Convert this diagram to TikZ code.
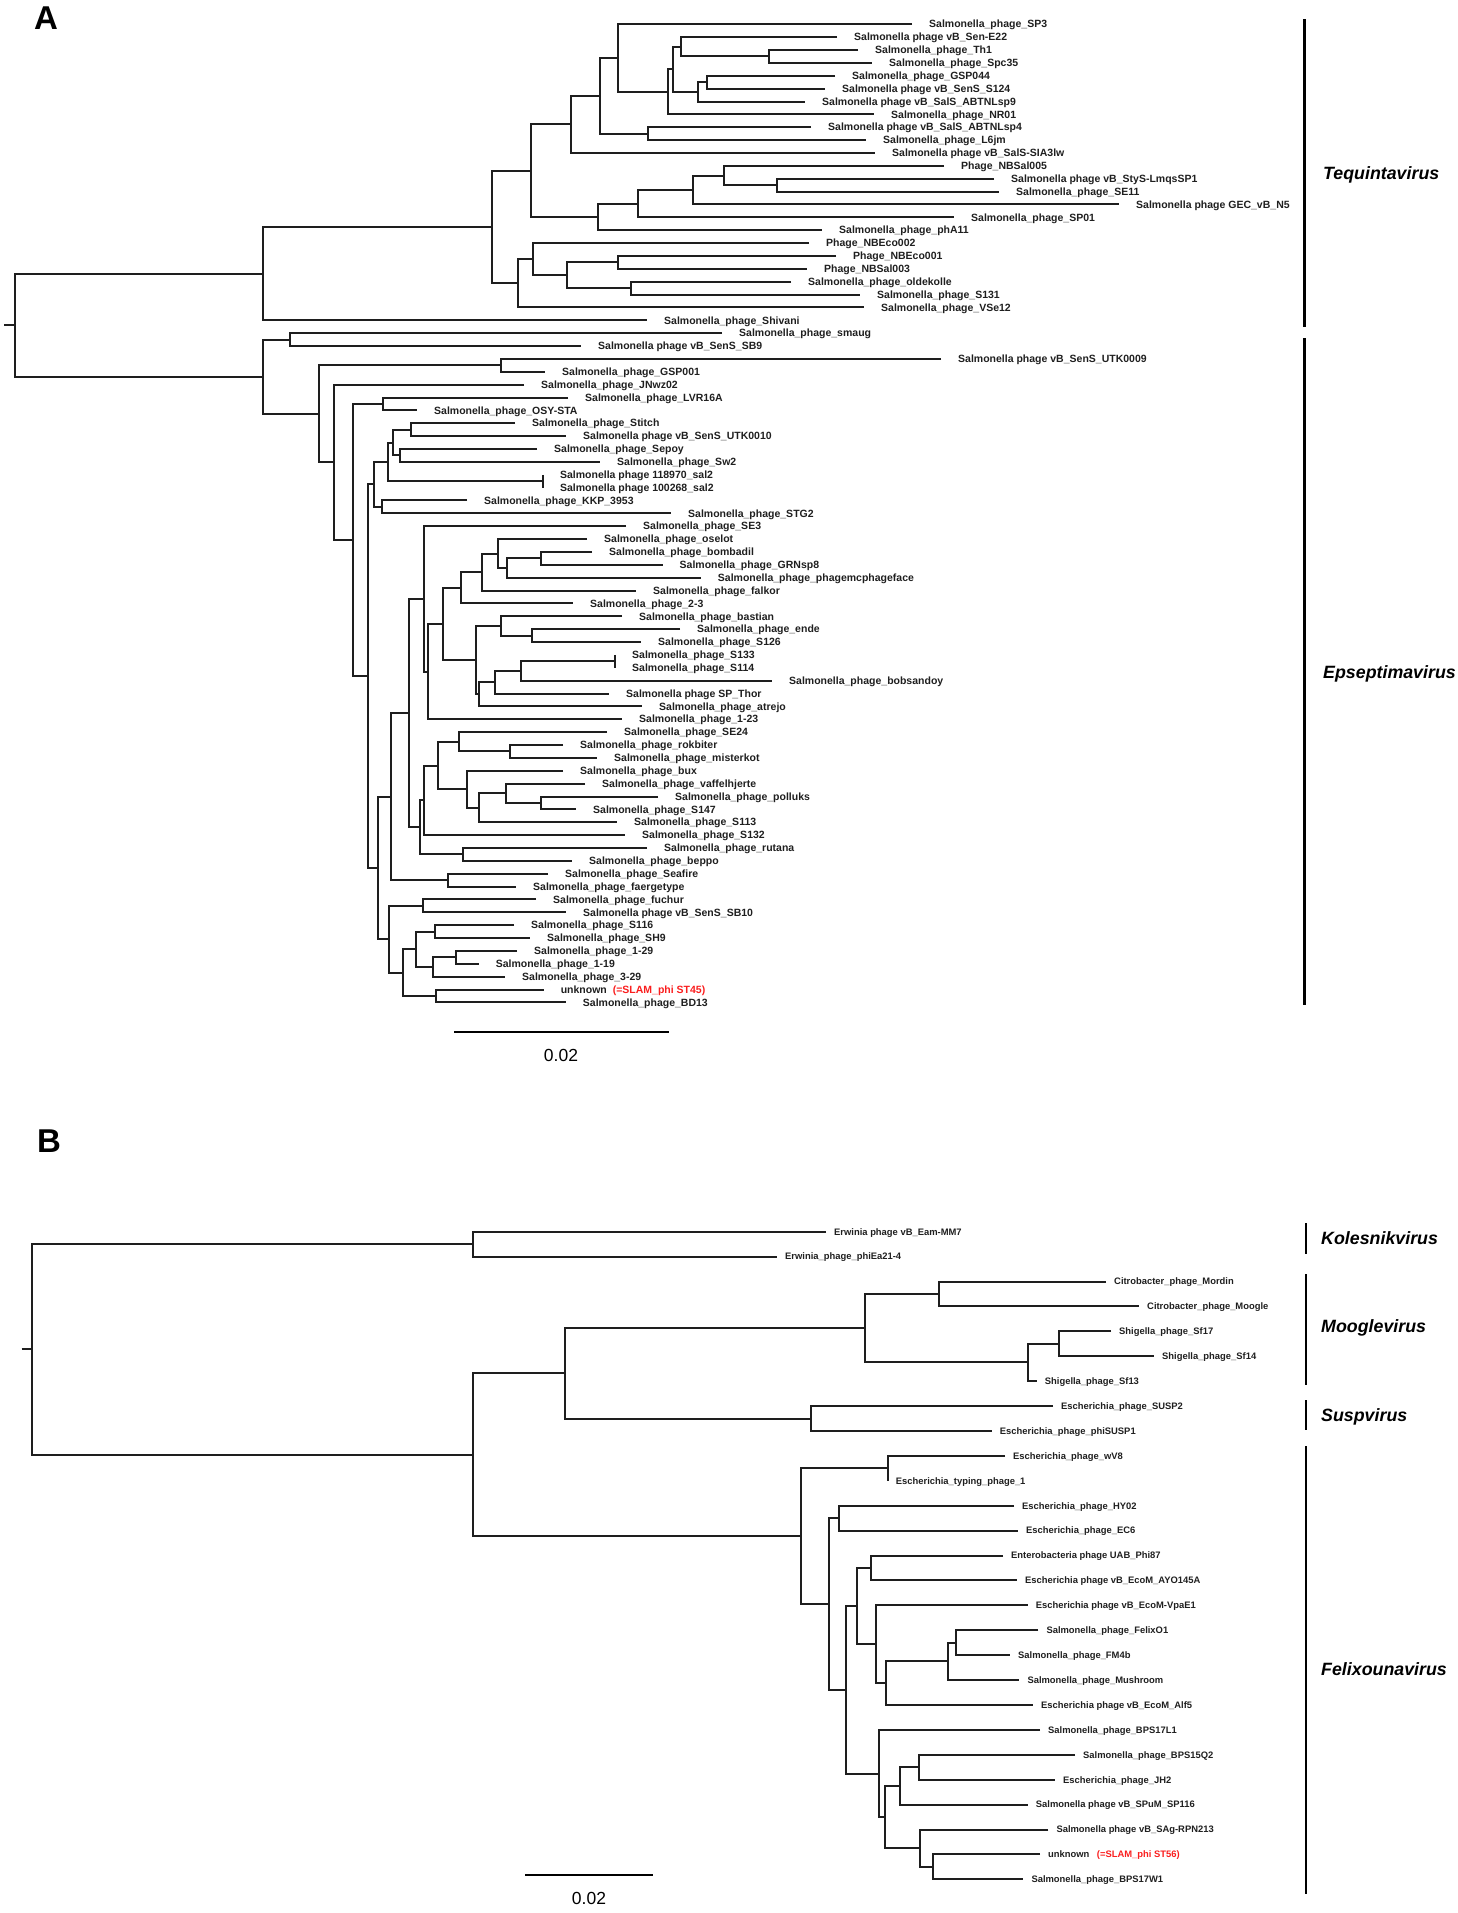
\documentclass[tikz,border=0pt]{standalone}
\usepackage{fontspec}
\setmainfont{Liberation Sans}
\usetikzlibrary{calc}
\definecolor{slamred}{RGB}{250,30,30}
\definecolor{treeline}{RGB}{30,30,30}
\tikzset{
 br/.style={draw=treeline, line width=2pt, line join=miter},
 labA/.style={anchor=base west, inner sep=0pt, xshift=17pt, yshift=-3.7pt, font=\bfseries\fontsize{10.5}{12}\selectfont, text=black!88},
 labB/.style={anchor=base west, inner sep=0pt, xshift=8pt, yshift=-3.3pt, font=\bfseries\fontsize{9.4}{11}\selectfont, text=black!88},
 clade/.style={anchor=base west, inner sep=0pt, font=\bfseries\itshape\fontsize{17.8}{20}\selectfont},
 cladebar/.style={draw=black, line width=2.8pt},
 panel/.style={anchor=base west, inner sep=0pt, font=\bfseries\fontsize{33}{36}\selectfont},
 scalebar/.style={draw=black, line width=1.8pt},
 scaletext/.style={inner sep=0pt, font=\fontsize{17.5}{20}\selectfont},
}
\newcommand\salph{Salmonella\_phage\_}
\newcommand\leafA[4]{\coordinate (#1) at (#2,{24.3+(#3-1)*12.87}); \node[labA] (#1l) at (#1) {#4};}
\newcommand\leafB[4]{\coordinate (#1) at (#2,{1231.7+(#3-1)*24.91}); \node[labB] (#1l) at (#1) {#4};}
\newcommand\treenode[4]{\path let \p1=(#3), \p2=(#4) in coordinate (#1) at ({#2pt},{0.5*\y1+0.5*\y2}); \draw[br] (#3) -| (#1) |- (#4);}
\begin{document}
\begin{tikzpicture}[x=1pt,y=-1pt]
\useasboundingbox (0,0) rectangle (1458,1913);
% ---------------- Panel A ----------------
\node[panel] (pA) at (34,30) {A};
\leafA{a1}{912}{1}{\salph SP3}
\leafA{a2}{837}{2}{Salmonella phage vB\_Sen-E22}
\leafA{a3}{858}{3}{\salph Th1}
\leafA{a4}{872}{4}{\salph Spc35}
\leafA{a5}{835}{5}{\salph GSP044}
\leafA{a6}{825}{6}{Salmonella phage vB\_SenS\_S124}
\leafA{a7}{805}{7}{Salmonella phage vB\_SalS\_ABTNLsp9}
\leafA{a8}{874}{8}{\salph NR01}
\leafA{a9}{811}{9}{Salmonella phage vB\_SalS\_ABTNLsp4}
\leafA{a10}{866}{10}{\salph L6jm}
\leafA{a11}{875}{11}{Salmonella phage vB\_SalS-SIA3lw}
\leafA{a12}{944}{12}{Phage\_NBSal005}
\leafA{a13}{994}{13}{Salmonella phage vB\_StyS-LmqsSP1}
\leafA{a14}{999}{14}{\salph SE11}
\leafA{a15}{1119}{15}{Salmonella phage GEC\_vB\_N5}
\leafA{a16}{954}{16}{\salph SP01}
\leafA{a17}{822}{17}{\salph phA11}
\leafA{a18}{809}{18}{Phage\_NBEco002}
\leafA{a19}{836}{19}{Phage\_NBEco001}
\leafA{a20}{807}{20}{Phage\_NBSal003}
\leafA{a21}{791}{21}{\salph oldekolle}
\leafA{a22}{860}{22}{\salph S131}
\leafA{a23}{864}{23}{\salph VSe12}
\leafA{a24}{647}{24}{\salph Shivani}
\leafA{a25}{722}{25}{\salph smaug}
\leafA{a26}{581}{26}{Salmonella phage vB\_SenS\_SB9}
\leafA{a27}{941}{27}{Salmonella phage vB\_SenS\_UTK0009}
\leafA{a28}{545}{28}{\salph GSP001}
\leafA{a29}{524}{29}{\salph JNwz02}
\leafA{a30}{568}{30}{\salph LVR16A}
\leafA{a31}{417}{31}{\salph OSY-STA}
\leafA{a32}{515}{32}{\salph Stitch}
\leafA{a33}{566}{33}{Salmonella phage vB\_SenS\_UTK0010}
\leafA{a34}{537}{34}{\salph Sepoy}
\leafA{a35}{600}{35}{\salph Sw2}
\leafA{a36}{542.9}{36}{Salmonella phage 118970\_sal2}
\leafA{a37}{542.9}{37}{Salmonella phage 100268\_sal2}
\leafA{a38}{467}{38}{\salph KKP\_3953}
\leafA{a39}{671}{39}{\salph STG2}
\leafA{a40}{626}{40}{\salph SE3}
\leafA{a41}{587}{41}{\salph oselot}
\leafA{a42}{592}{42}{\salph bombadil}
\leafA{a43}{662.5}{43}{\salph GRNsp8}
\leafA{a44}{700.7}{44}{\salph phagemcphageface}
\leafA{a45}{636}{45}{\salph falkor}
\leafA{a46}{573}{46}{\salph 2-3}
\leafA{a47}{622}{47}{\salph bastian}
\leafA{a48}{680}{48}{\salph ende}
\leafA{a49}{641}{49}{\salph S126}
\leafA{a50}{615}{50}{\salph S133}
\leafA{a51}{615}{51}{\salph S114}
\leafA{a52}{772}{52}{\salph bobsandoy}
\leafA{a53}{609}{53}{Salmonella phage SP\_Thor}
\leafA{a54}{642}{54}{\salph atrejo}
\leafA{a55}{622}{55}{\salph 1-23}
\leafA{a56}{607}{56}{\salph SE24}
\leafA{a57}{563}{57}{\salph rokbiter}
\leafA{a58}{597}{58}{\salph misterkot}
\leafA{a59}{563}{59}{\salph bux}
\leafA{a60}{585}{60}{\salph vaffelhjerte}
\leafA{a61}{658}{61}{\salph polluks}
\leafA{a62}{576}{62}{\salph S147}
\leafA{a63}{617}{63}{\salph S113}
\leafA{a64}{625}{64}{\salph S132}
\leafA{a65}{647}{65}{\salph rutana}
\leafA{a66}{572}{66}{\salph beppo}
\leafA{a67}{548}{67}{\salph Seafire}
\leafA{a68}{516}{68}{\salph faergetype}
\leafA{a69}{536}{69}{\salph fuchur}
\leafA{a70}{566}{70}{Salmonella phage vB\_SenS\_SB10}
\leafA{a71}{514}{71}{\salph S116}
\leafA{a72}{530}{72}{\salph SH9}
\leafA{a73}{517}{73}{\salph 1-29}
\leafA{a74}{478.6}{74}{\salph 1-19}
\leafA{a75}{505}{75}{\salph 3-29}
\leafA{a76}{543.6}{76}{unknown}
\node[labA, text=slamred, xshift=52pt] (a76r) at (a76) {(=SLAM\_phi ST45)};
\leafA{a77}{565.7}{77}{\salph BD13}
% Tequintavirus subtree
\treenode{T17}{768.6}{a3}{a4}
\treenode{T15}{681.1}{a2}{T17}
\treenode{T18}{707.1}{a5}{a6}
\treenode{T16}{698.2}{T18}{a7}
\treenode{T14}{673.2}{T15}{T16}
\treenode{T13}{667.9}{T14}{a8}
\treenode{T11}{617.5}{a1}{T13}
\treenode{T12}{648.2}{a9}{a10}
\treenode{T10}{599.6}{T11}{T12}
\treenode{T8}{571.4}{T10}{a11}
\treenode{T22}{776.8}{a13}{a14}
\treenode{T21}{723.9}{a12}{T22}
\treenode{T20}{692.5}{T21}{a15}
\treenode{T19}{637.5}{T20}{a16}
\treenode{T9}{598.2}{T19}{a17}
\treenode{T2}{531.1}{T8}{T9}
\treenode{T6}{617.5}{a19}{a20}
\treenode{T7}{631}{a21}{a22}
\treenode{T5}{566.8}{T6}{T7}
\treenode{T4}{532.9}{a18}{T5}
\treenode{T3}{518.2}{T4}{a23}
\treenode{T1}{491.8}{T2}{T3}
\treenode{T0}{263.2}{T1}{a24}
% Epseptimavirus subtree
\treenode{E1}{290}{a25}{a26}
\treenode{E3}{500.7}{a27}{a28}
\treenode{Ea}{382.9}{a30}{a31}
\treenode{Eb}{410.7}{a32}{a33}
\treenode{Ec}{399.6}{a34}{a35}
\treenode{Ed}{392.9}{Eb}{Ec}
\treenode{Ee}{542.9}{a36}{a37}
\treenode{Ef}{388.2}{Ed}{Ee}
\treenode{Eg}{382.1}{a38}{a39}
\treenode{Eh}{373.9}{Ef}{Eg}
\treenode{Ei}{541}{a42}{a43}
\treenode{Ej}{506.8}{Ei}{a44}
\treenode{Ek}{497.9}{a41}{Ej}
\treenode{El}{481.8}{Ek}{a45}
\treenode{Em}{460.7}{El}{a46}
\treenode{En}{532}{a48}{a49}
\treenode{Eo}{500.7}{a47}{En}
\treenode{Ep}{615}{a50}{a51}
\treenode{Eq}{521.4}{Ep}{a52}
\treenode{Er}{495.4}{Eq}{a53}
\treenode{Es}{479.3}{Er}{a54}
\treenode{Et}{476.4}{Eo}{Es}
\treenode{Eu}{442.9}{Em}{Et}
\treenode{Ev}{428.2}{Eu}{a55}
\treenode{Ew}{423.9}{a40}{Ev}
\treenode{Ex}{510.4}{a57}{a58}
\treenode{Ey}{458.6}{a56}{Ex}
\treenode{Ez}{541}{a61}{a62}
\treenode{Fa}{506}{a60}{Ez}
\treenode{Fb}{479}{Fa}{a63}
\treenode{Fc}{467}{a59}{Fb}
\treenode{Fd}{437.5}{Ey}{Fc}
\treenode{Fe}{424}{Fd}{a64}
\treenode{Ff}{462.5}{a65}{a66}
\treenode{Fg}{420.4}{Fe}{Ff}
\treenode{Fh}{408.6}{Ew}{Fg}
\treenode{Fi}{448}{a67}{a68}
\treenode{Fj}{391}{Fh}{Fi}
\treenode{Fk}{422.9}{a69}{a70}
\treenode{Fl}{434.6}{a71}{a72}
\treenode{Fm}{456}{a73}{a74}
\treenode{Fn}{432.9}{Fm}{a75}
\treenode{Fo}{415.7}{Fl}{Fn}
\treenode{Fp}{436.4}{a76}{a77}
\treenode{Fq}{402.9}{Fo}{Fp}
\treenode{Fr}{389.3}{Fk}{Fq}
\treenode{Fs}{378.2}{Fj}{Fr}
\treenode{Ft}{367.9}{Eh}{Fs}
\treenode{Fv}{352.9}{Ea}{Ft}
\treenode{Fw}{333.6}{a29}{Fv}
\treenode{Fx}{318.6}{E3}{Fw}
\treenode{Fy}{263.2}{E1}{Fx}
\treenode{RA}{15}{T0}{Fy}
\path (RA) ++(-11,0) coordinate (RAtick);
\draw[br] (RAtick) -- (RA);
% clade bars A
\coordinate (teqT) at (1304.3,19.3);
\coordinate (teqB) at (1304.3,327.3);
\coordinate (epsT) at (1304.3,338.3);
\coordinate (epsB) at (1304.3,1005);
\draw[cladebar] (teqT) -- (teqB);
\draw[cladebar] (epsT) -- (epsB);
\node[clade] (teqL) at (1323,179.5) {Tequintavirus};
\node[clade] (epsL) at (1323,678.5) {Epseptimavirus};
% scale bar A
\coordinate (sbA1) at (454,1032);
\coordinate (sbA2) at (668.6,1032);
\draw[scalebar] (sbA1) -- (sbA2);
\node[scaletext] (sbAt) at (561,1055) {0.02};
% ---------------- Panel B ----------------
\node[panel] (pB) at (37,1152) {B};
\leafB{b1}{826}{1}{Erwinia phage vB\_Eam-MM7}
\leafB{b2}{777}{2}{Erwinia\_phage\_phiEa21-4}
\leafB{b3}{1106}{3}{Citrobacter\_phage\_Mordin}
\leafB{b4}{1139}{4}{Citrobacter\_phage\_Moogle}
\leafB{b5}{1111}{5}{Shigella\_phage\_Sf17}
\leafB{b6}{1154}{6}{Shigella\_phage\_Sf14}
\leafB{b7}{1036.7}{7}{Shigella\_phage\_Sf13}
\leafB{b8}{1053}{8}{Escherichia\_phage\_SUSP2}
\leafB{b9}{991.7}{9}{Escherichia\_phage\_phiSUSP1}
\leafB{b10}{1005}{10}{Escherichia\_phage\_wV8}
\leafB{b11}{887.7}{11}{Escherichia\_typing\_phage\_1}
\leafB{b12}{1014}{12}{Escherichia\_phage\_HY02}
\leafB{b13}{1018}{13}{Escherichia\_phage\_EC6}
\leafB{b14}{1003}{14}{Enterobacteria phage UAB\_Phi87}
\leafB{b15}{1017}{15}{Escherichia phage vB\_EcoM\_AYO145A}
\leafB{b16}{1027.7}{16}{Escherichia phage vB\_EcoM-VpaE1}
\leafB{b17}{1038.3}{17}{\salph FelixO1}
\leafB{b18}{1010}{18}{\salph FM4b}
\leafB{b19}{1019.3}{19}{\salph Mushroom}
\leafB{b20}{1033}{20}{Escherichia phage vB\_EcoM\_Alf5}
\leafB{b21}{1040}{21}{\salph BPS17L1}
\leafB{b22}{1075}{22}{\salph BPS15Q2}
\leafB{b23}{1055}{23}{Escherichia\_phage\_JH2}
\leafB{b24}{1027.7}{24}{Salmonella phage vB\_SPuM\_SP116}
\leafB{b25}{1048.3}{25}{Salmonella phage vB\_SAg-RPN213}
\leafB{b26}{1040}{26}{unknown}
\node[labB, text=slamred, xshift=48.7pt] (b26r) at (b26) {(=SLAM\_phi ST56)};
\leafB{b27}{1023.3}{27}{\salph BPS17W1}
\treenode{Bk}{473}{b1}{b2}
\treenode{Bc}{939}{b3}{b4}
\treenode{Bh}{1059}{b5}{b6}
\treenode{Bg}{1028}{Bh}{b7}
\treenode{Bn}{864.5}{Bc}{Bg}
\treenode{Bs}{811}{b8}{b9}
\treenode{Bm}{565}{Bn}{Bs}
\treenode{Bw}{887.7}{b10}{b11}
\treenode{Bq}{839.3}{b12}{b13}
\treenode{Bu}{871}{b14}{b15}
\treenode{Bf1}{956}{b17}{b18}
\treenode{Bfx}{948.3}{Bf1}{b19}
\treenode{Ba5}{886}{Bfx}{b20}
\treenode{Bv}{876}{b16}{Ba5}
\treenode{By}{857.3}{Bu}{Bv}
\treenode{Bj2}{919}{b22}{b23}
\treenode{Bj}{900}{Bj2}{b24}
\treenode{Bu2}{932.7}{b26}{b27}
\treenode{Br}{920.3}{b25}{Bu2}
\treenode{Bz2}{885}{Bj}{Br}
\treenode{Bz}{879}{b21}{Bz2}
\treenode{Bx}{846}{By}{Bz}
\treenode{Bp}{828.7}{Bq}{Bx}
\treenode{Bf}{800.7}{Bw}{Bp}
\treenode{Bl}{473}{Bm}{Bf}
\treenode{RB}{31.7}{Bk}{Bl}
\path (RB) ++(-10,0) coordinate (RBtick);
\draw[br] (RBtick) -- (RB);
% clade bars B
\coordinate (kolT) at (1306,1223);
\coordinate (kolB) at (1306,1254);
\coordinate (mooT) at (1306,1274);
\coordinate (mooB) at (1306,1385);
\coordinate (susT) at (1306,1400);
\coordinate (susB) at (1306,1430);
\coordinate (felT) at (1306,1446);
\coordinate (felB) at (1306,1894);
\draw[cladebar] (kolT) -- (kolB);
\draw[cladebar] (mooT) -- (mooB);
\draw[cladebar] (susT) -- (susB);
\draw[cladebar] (felT) -- (felB);
\node[clade] (kolL) at (1321,1244.5) {Kolesnikvirus};
\node[clade] (mooL) at (1321,1332.5) {Mooglevirus};
\node[clade] (susL) at (1321,1421.5) {Suspvirus};
\node[clade] (felL) at (1321,1675.5) {Felixounavirus};
% scale bar B
\coordinate (sbB1) at (525,1875);
\coordinate (sbB2) at (653,1875);
\draw[scalebar] (sbB1) -- (sbB2);
\node[scaletext] (sbBt) at (589,1898) {0.02};
\end{tikzpicture}
\end{document}
